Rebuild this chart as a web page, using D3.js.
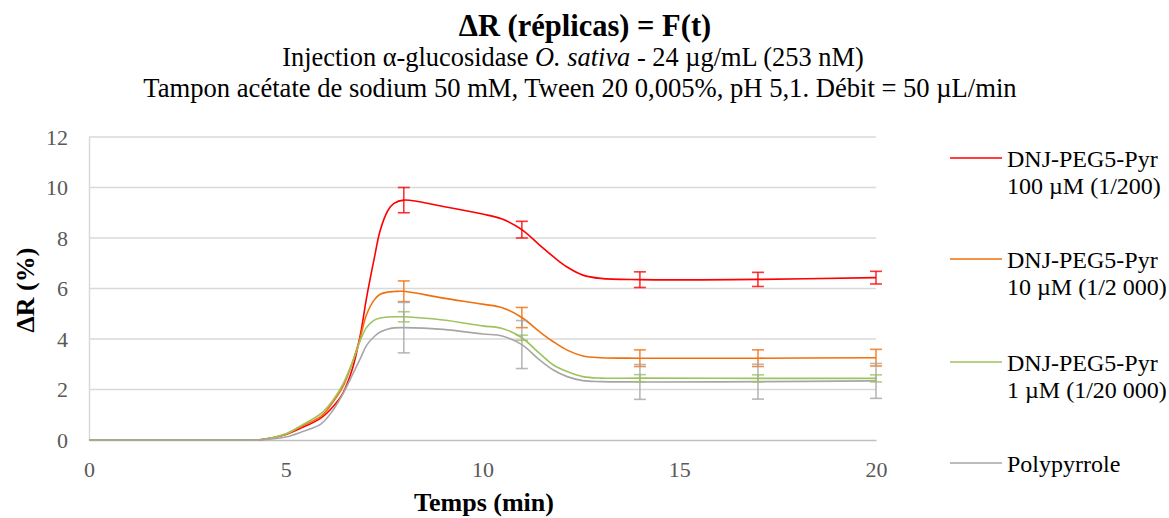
<!DOCTYPE html>
<html>
<head>
<meta charset="utf-8">
<script src="https://cdn.jsdelivr.net/npm/d3@7"></script>
<style>
    body { margin: 0; background: #fff; }
</style>
</head>
<body>
<svg id="chart" width="1169" height="518"></svg>
<script>
// time points (min), shared by all series
const times = [0, 2, 4, 4.3, 5, 5.4, 5.9, 6.2, 6.45, 6.7, 6.9, 7.05, 7.25, 7.4, 7.6, 7.75, 8, 9, 10, 10.5, 11, 11.45, 11.8, 12.15, 12.55, 13, 14, 17, 20];

// ΔR (%) for each series
const red100 = [0, 0, 0, 0, 0.22, 0.48, 0.88, 1.32, 1.85, 2.85, 4.2, 5.6, 7.2, 8.3, 9.1, 9.37, 9.5, 9.25, 8.95, 8.75, 8.33, 7.72, 7.26, 6.85, 6.53, 6.4, 6.35, 6.36, 6.43];
const orange10 = [0, 0, 0, 0, 0.22, 0.55, 0.95, 1.5, 2.1, 3.1, 4.1, 4.95, 5.55, 5.77, 5.86, 5.88, 5.89, 5.62, 5.38, 5.24, 4.85, 4.29, 3.89, 3.56, 3.33, 3.26, 3.24, 3.24, 3.26];
const green1 = [0, 0, 0, 0, 0.25, 0.58, 1.05, 1.58, 2.2, 3.1, 3.96, 4.45, 4.75, 4.83, 4.87, 4.88, 4.88, 4.75, 4.52, 4.42, 4.05, 3.43, 2.97, 2.71, 2.51, 2.45, 2.45, 2.44, 2.44];
const polypyrrole = [0, 0, 0, 0, 0.12, 0.32, 0.64, 1.18, 1.82, 2.6, 3.24, 3.74, 4.1, 4.28, 4.4, 4.44, 4.45, 4.38, 4.2, 4.12, 3.78, 3.17, 2.77, 2.51, 2.35, 2.31, 2.3, 2.31, 2.34];

// error bars (± value) at these times
const errTimes = [8, 11, 14, 17, 20];
const red100Err = [0.5, 0.33, 0.31, 0.28, 0.25];
const orange10Err = [0.41, 0.4, 0.33, 0.33, 0.33];
const green1Err = [0.2, 0.1, 0.14, 0.14, 0.14];
const polypyrroleErr = [1.0, 0.95, 0.69, 0.69, 0.69];

const seriesNames = [
    ["DNJ-PEG5-Pyr", "100 µM (1/200)"],
    ["DNJ-PEG5-Pyr", "10 µM (1/2 000)"],
    ["DNJ-PEG5-Pyr", "1 µM (1/20 000)"],
    ["Polypyrrole"]
];
const seriesColors = ["#ff0000", "#f0700f", "#9cc35e", "#a6a6a6"];

const xTicks = [0, 5, 10, 15, 20];
const yTicks = [0, 2, 4, 6, 8, 10, 12];

const series = [
    { name: seriesNames[0], color: seriesColors[0], values: red100, err: red100Err },
    { name: seriesNames[1], color: seriesColors[1], values: orange10, err: orange10Err },
    { name: seriesNames[2], color: seriesColors[2], values: green1, err: green1Err },
    { name: seriesNames[3], color: seriesColors[3], values: polypyrrole, err: polypyrroleErr }
];

const FONT = "'Liberation Serif', 'Times New Roman', serif";

const svg = d3.select("#chart");

// plot area
const plotLeft = 89, plotRight = 876, plotTop = 137, plotBottom = 440;

let x = d3.scaleLinear().domain([0, 20]).range([plotLeft, plotRight]);
let y = d3.scaleLinear().domain([0, 12]).range([plotBottom, plotTop]);

// gridlines
svg.append("g")
    .selectAll("line")
    .data(yTicks.filter(d => d > 0))
    .join("line")
    .attr("x1", plotLeft).attr("x2", plotRight)
    .attr("y1", d => y(d)).attr("y2", d => y(d))
    .attr("stroke", "#d9d9d9")
    .attr("stroke-width", 1.5);

// y axis
let yAxis = svg.append("g")
    .attr("transform", `translate(${plotLeft},0)`)
    .call(d3.axisLeft(y).tickValues(yTicks).tickSize(0).tickPadding(21));
yAxis.attr("font-size", 22);
yAxis.select(".domain").attr("stroke", "#d9d9d9").attr("stroke-width", 1.5);
yAxis.selectAll("text").attr("fill", "#595959");

// x axis
let xAxis = svg.append("g")
    .attr("transform", `translate(0,${plotBottom})`)
    .call(d3.axisBottom(x).tickValues(xTicks).tickSize(0));
xAxis.attr("font-size", 22);
xAxis.select(".domain").attr("stroke", "#bfbfbf").attr("stroke-width", 1.5);
xAxis.selectAll("text")
    .attr("fill", "#595959")
    .attr("y", 37)
    .attr("dy", null);

// curves (smoothed like the spreadsheet's smooth lines)
let line = d3.line()
    .x((d, i) => x(times[i]))
    .y(d => y(d))
    .curve(d3.curveCatmullRom.alpha(0.5));

svg.append("g")
    .selectAll("path")
    .data(series)
    .join("path")
    .attr("d", d => line(d.values))
    .attr("fill", "none")
    .attr("stroke", d => d.color)
    .attr("stroke-width", 1.6);

// error bars, drawn on top of the curves
let capW = 6;
series.forEach(function (s) {
    let bars = errTimes.map(function (t, i) {
        let v = s.values[times.indexOf(t)];
        return { t: t, lo: v - s.err[i], hi: v + s.err[i] };
    });
    let g = svg.append("g")
        .attr("stroke", s.color)
        .attr("stroke-opacity", 0.8)
        .attr("stroke-width", 1.6);
    g.selectAll("line.v").data(bars).join("line")
        .attr("class", "v")
        .attr("x1", d => x(d.t)).attr("x2", d => x(d.t))
        .attr("y1", d => y(d.lo)).attr("y2", d => y(d.hi));
    g.selectAll("line.hi").data(bars).join("line")
        .attr("class", "hi")
        .attr("x1", d => x(d.t) - capW).attr("x2", d => x(d.t) + capW)
        .attr("y1", d => y(d.hi)).attr("y2", d => y(d.hi));
    g.selectAll("line.lo").data(bars).join("line")
        .attr("class", "lo")
        .attr("x1", d => x(d.t) - capW).attr("x2", d => x(d.t) + capW)
        .attr("y1", d => y(d.lo)).attr("y2", d => y(d.lo));
});

// titles
svg.append("text")
    .attr("x", 585).attr("y", 36)
    .attr("text-anchor", "middle")
    .attr("font-size", 30.5)
    .attr("font-weight", "bold")
    .text("ΔR (réplicas) = F(t)");

let sub1 = svg.append("text")
    .attr("x", 573).attr("y", 66)
    .attr("text-anchor", "middle")
    .attr("font-size", 26.4);
sub1.append("tspan").text("Injection α-glucosidase ");
sub1.append("tspan").attr("font-style", "italic").text("O. sativa");
sub1.append("tspan").text(" - 24 µg/mL (253 nM)");

svg.append("text")
    .attr("x", 580).attr("y", 97)
    .attr("text-anchor", "middle")
    .attr("font-size", 26.6)
    .text("Tampon acétate de sodium 50 mM, Tween 20 0,005%, pH 5,1. Débit = 50 µL/min");

// axis titles
svg.append("text")
    .attr("x", 484).attr("y", 511)
    .attr("text-anchor", "middle")
    .attr("font-size", 26)
    .attr("font-weight", "bold")
    .text("Temps (min)");

svg.append("text")
    .attr("transform", "translate(34,290) rotate(-90)")
    .attr("text-anchor", "middle")
    .attr("font-size", 26)
    .attr("font-weight", "bold")
    .text("ΔR (%)");

// legend
const legendY = [158, 259, 362, 463];
let legend = svg.append("g")
    .selectAll("g")
    .data(series)
    .join("g")
    .attr("transform", (d, i) => `translate(950,${legendY[i]})`);

legend.append("line")
    .attr("x1", 0).attr("x2", 52)
    .attr("stroke", d => d.color)
    .attr("stroke-width", 1.6);

legend.append("text")
    .attr("font-size", 24)
    .selectAll("tspan")
    .data(d => d.name)
    .join("tspan")
    .attr("x", 57)
    .attr("y", (d, i) => 8.5 + i * 27)
    .text(d => d);

// serif everywhere, set on each text so nothing else overrides it
svg.selectAll("text").style("font-family", FONT);
</script>
</body>
</html>
